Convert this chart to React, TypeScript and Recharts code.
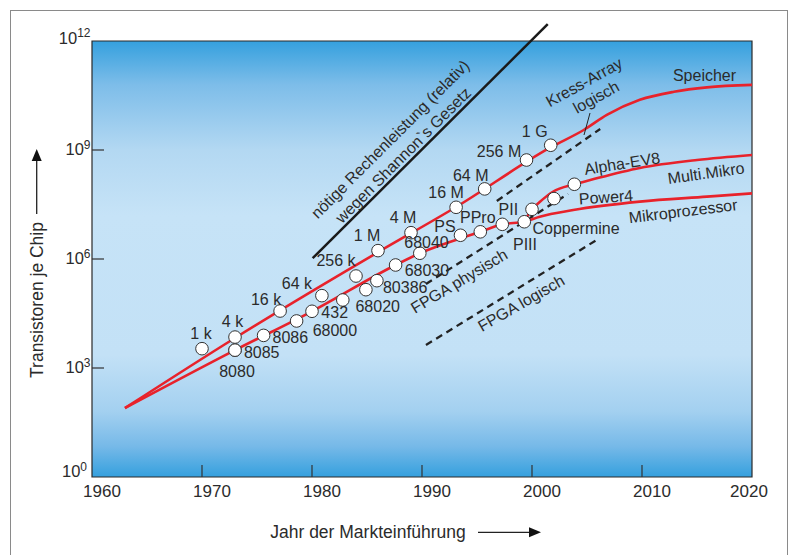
import React from "react";
import {
  ComposedChart,
  Line,
  XAxis,
  YAxis,
  CartesianGrid,
  ReferenceArea,
  ReferenceLine,
  LabelList,
} from "recharts";

// Speicherbausteine (DRAM)
const memoryYears = [1970.0, 1973.0, 1977.1, 1980.9, 1984.0, 1986.0, 1989.0, 1993.1, 1995.7, 1999.5, 2001.7];
const memoryCounts = [3400, 7100, 37000, 98000, 340000, 1.7e6, 5.3e6, 2.65e7, 8.5e7, 5.3e8, 1.35e9];
const memoryLabels = ["1 k", "4 k", "16 k", "64 k", "256 k", "1 M", "4 M", "16 M", "64 M", "256 M", "1 G"];

// Mikroprozessoren
const cpuYears = [1973.0, 1973.0, 1975.6, 1978.6, 1980.0, 1982.8, 1984.9, 1985.9, 1987.6, 1989.8, 1993.5, 1995.3, 1997.3, 1999.3, 2000.0, 2002.0, 2003.85];
const cpuCounts = [3100, 3100, 7900, 19700, 36400, 74500, 143000, 253000, 684000, 1.44e6, 4.5e6, 5.6e6, 9.0e6, 1.06e7, 2.33e7, 4.6e7, 1.14e8];
const cpuLabels = ["8080", "8085", "8086", "68000", "432", "", "68020", "80386", "68030", "68040", "PS", "PPro", "PII", "PIII", "Coppermine", "Power4", "Alpha-EV8"];

// Trendkurven
const speicherYears = [1963.0, 1973.0, 1986.1, 1993.1, 2001.8, 2004.7, 2006.8, 2009.8, 2012.9, 2015.9, 2020];
const speicherCounts = [79, 6700, 1.6e6, 2.7e7, 1.23e9, 3.55e9, 9.2e9, 2.4e10, 4.0e10, 5.3e10, 6.2e10];

const mikroYears = [1963.0, 1973.0, 1980.0, 1987.6, 1989.8, 1995.3, 1997.3, 1999.3, 2000.7, 2003.75, 2009.8, 2015.9, 2020];
const mikroCounts = [79, 3100, 36400, 684000, 1.44e6, 5.6e6, 9.0e6, 1.06e7, 1.46e7, 2.23e7, 3.8e7, 5.2e7, 6.4e7];

const multiYears = [1999.3, 2000.0, 2000.7, 2001.9, 2003.85, 2005.3, 2009.8, 2015.0, 2020];
const multiCounts = [1.06e7, 2.33e7, 3.7e7, 7.1e7, 1.14e8, 1.49e8, 3.2e8, 5.3e8, 7.3e8];

// Geraden: Rechenleistung, Kress-Array, FPGA
const rechenYears = [1980.06, 2001.43];
const rechenCounts = [1.05e6, 2.9e12];
const kressYears = [1996.8, 2006.2];
const kressCounts = [3.95e7, 3.8e9];
const fpgaPhysYears = [1990.36, 2003.27];
const fpgaPhysCounts = [2.05e5, 6.2e7];
const fpgaLogYears = [1990.36, 2006.1];
const fpgaLogCounts = [4300, 3.68e6];

const xTicks = [1960, 1970, 1980, 1990, 2000, 2010, 2020];
const yTicks = [1, 1e3, 1e6, 1e9, 1e12];

const toPoints = (years: number[], counts: number[], labels?: string[]) =>
  years.map((year, i) => ({ year, value: counts[i], label: labels ? labels[i] : "" }));

const memoryData = toPoints(memoryYears, memoryCounts, memoryLabels);
const cpuData = toPoints(cpuYears, cpuCounts, cpuLabels);
const speicherData = toPoints(speicherYears, speicherCounts);
const mikroData = toPoints(mikroYears, mikroCounts);
const multiData = toPoints(multiYears, multiCounts);

const segment = (years: number[], counts: number[]) =>
  years.map((x, i) => ({ x, y: counts[i] }));

const FONT = "'Liberation Sans', Arial, Helvetica, sans-serif";
const TEXT = "#2b2b2b";
const RED = "#e8222b";
const PLOT_LEFT = 92;
const PLOT_BOTTOM = 477;

// text centre relative to the circle: [dx, dy, rotation]
const labelPlacement: Record<string, number[]> = {
  "1 k": [-1, -15], "4 k": [-2.5, -15.5], "16 k": [-14, -12], "64 k": [-25, -12], "256 k": [-20, -16],
  "1 M": [-11, -15], "4 M": [-8, -15], "16 M": [-10, -15], "64 M": [-14, -14], "256 M": [-27.5, -9], "1 G": [-16, -14],
  "8080": [2, 21], "8085": [26.7, 2.5], "8086": [26.7, 2], "68000": [38.3, 9], "432": [22.7, 1.2],
  "68020": [11.8, 16.3], "80386": [28.3, 6.8], "68030": [31.3, 5], "68040": [6.7, -11],
  "PS": [-15.5, -9.5], "PPro": [-2.5, -14.7], "PII": [6, -15.6], "PIII": [0.7, 22.5],
  "Coppermine": [44, 19], "Power4": [52, -1.7, -4], "Alpha-EV8": [47.7, -21, -9],
};

const PointLabel = (props: any) => {
  const { x, y, value } = props;
  if (!value) return null;
  const [dx, dy, rot = 0] = labelPlacement[value] || [0, -14];
  const cx = x + dx;
  const cy = y + dy;
  return (
    <text
      x={cx}
      y={cy + 5.8}
      textAnchor="middle"
      fontSize={16}
      fontFamily={FONT}
      fill={TEXT}
      transform={rot ? `rotate(${rot} ${cx} ${cy})` : undefined}
    >
      {value}
    </text>
  );
};

const XTick = (props: any) => {
  const { x, payload } = props;
  const v = payload.value;
  const last = v === xTicks[xTicks.length - 1];
  const inner = v !== xTicks[0] && !last;
  return (
    <g>
      {inner && <line x1={x} x2={x} y1={PLOT_BOTTOM} y2={PLOT_BOTTOM - 12} stroke="#333" strokeWidth={1.2} />}
      <text x={x + (last ? -3 : 10)} y={497} textAnchor="middle" fontSize={17} fontFamily={FONT} fill={TEXT}>
        {v}
      </text>
    </g>
  );
};

const YTick = (props: any) => {
  const { y, payload } = props;
  const v = payload.value;
  const exp = Math.round(Math.log10(v));
  const inner = v !== yTicks[0] && v !== yTicks[yTicks.length - 1];
  const shift = exp === 0 ? 0 : exp === 12 ? 2.5 : 5;
  return (
    <g>
      {inner && <line x1={PLOT_LEFT} x2={PLOT_LEFT + 12} y1={y} y2={y} stroke="#333" strokeWidth={1.2} />}
      <text x={exp === 0 ? 87 : 90.5} y={y + shift} textAnchor="end" fontSize={16.5} fontFamily={FONT} fill={TEXT}>
        10
        <tspan dy={-6.5} fontSize={12}>
          {exp}
        </tspan>
      </text>
    </g>
  );
};

const Note = ({ x, y, rot = 0, size = 16, children }: any) => (
  <text
    x={x}
    y={y + size * 0.36}
    textAnchor="middle"
    fontSize={size}
    fontFamily={FONT}
    fill={TEXT}
    transform={rot ? `rotate(${rot} ${x} ${y})` : undefined}
  >
    {children}
  </text>
);

export default function App() {
  return (
    <div style={{ position: "absolute", left: 0, top: 0, width: 793, height: 555, overflow: "hidden", background: "#fff" }}>
      <div
        style={{
          position: "absolute",
          left: 10,
          top: 10,
          width: 778,
          height: 600,
          border: "1.5px solid #8a8a8a",
          boxSizing: "border-box",
        }}
      />
      <div style={{ position: "absolute", left: 0, top: 0 }}>
        <ComposedChart width={793} height={555} margin={{ top: 41, right: 41, bottom: 48, left: 32 }}>
          <defs>
            <linearGradient id="plotBg" x1="0" y1="0" x2="0" y2="1">
              <stop offset="0" stopColor="#35a0de" />
              <stop offset="0.1" stopColor="#7dbde9" />
              <stop offset="0.25" stopColor="#b3d8f2" />
              <stop offset="0.4" stopColor="#c6e3f7" />
              <stop offset="0.72" stopColor="#c3e1f6" />
              <stop offset="0.85" stopColor="#a3d0f0" />
              <stop offset="0.93" stopColor="#76b9e8" />
              <stop offset="1" stopColor="#35a0de" />
            </linearGradient>
          </defs>
          <CartesianGrid horizontal={false} vertical={false} fill="url(#plotBg)" fillOpacity={1} />
          <XAxis
            type="number"
            dataKey="year"
            domain={[1960, 2020]}
            ticks={xTicks}
            interval={0}
            allowDataOverflow
            height={30}
            axisLine={false}
            tickLine={false}
            tick={<XTick />}
          />
          <YAxis
            type="number"
            scale="log"
            domain={[1, 1e12]}
            ticks={yTicks}
            interval={0}
            allowDataOverflow
            width={60}
            axisLine={false}
            tickLine={false}
            tick={<YTick />}
          />
          <ReferenceArea x1={1960} x2={2020} y1={1} y2={1e12} fill="none" fillOpacity={0} stroke="#2a2a2a" strokeWidth={1.2} />

          <ReferenceLine segment={segment(rechenYears, rechenCounts)} stroke="#1a1a1a" strokeWidth={2.5} ifOverflow="visible" />
          <ReferenceLine segment={segment(kressYears, kressCounts)} stroke="#222" strokeWidth={2.3} strokeDasharray="7 5" ifOverflow="visible" />
          <ReferenceLine segment={segment(fpgaPhysYears, fpgaPhysCounts)} stroke="#222" strokeWidth={2.3} strokeDasharray="7 5" ifOverflow="visible" />
          <ReferenceLine segment={segment(fpgaLogYears, fpgaLogCounts)} stroke="#222" strokeWidth={2.3} strokeDasharray="7 5" ifOverflow="visible" />

          <Line data={speicherData} dataKey="value" type="monotone" stroke={RED} strokeWidth={2.6} dot={false} activeDot={false} isAnimationActive={false} />
          <Line data={mikroData} dataKey="value" type="monotone" stroke={RED} strokeWidth={2.6} dot={false} activeDot={false} isAnimationActive={false} />
          <Line data={multiData} dataKey="value" type="monotone" stroke={RED} strokeWidth={2.6} dot={false} activeDot={false} isAnimationActive={false} />

          <Line
            data={memoryData}
            dataKey="value"
            stroke="none"
            dot={{ r: 6.3, fill: "#fff", stroke: "#333", strokeWidth: 1 }}
            activeDot={false}
            isAnimationActive={false}
          >
            <LabelList dataKey="label" content={<PointLabel />} />
          </Line>
          <Line
            data={cpuData}
            dataKey="value"
            stroke="none"
            dot={{ r: 6.3, fill: "#fff", stroke: "#333", strokeWidth: 1 }}
            activeDot={false}
            isAnimationActive={false}
          >
            <LabelList dataKey="label" content={<PointLabel />} />
          </Line>
        </ComposedChart>
      </div>

      <svg width={793} height={555} style={{ position: "absolute", left: 0, top: 0, pointerEvents: "none" }}>
        <Note x={390} y={139} rot={-45}>nötige Rechenleistung (relativ)</Note>
        <Note x={403} y={155} rot={-45}>wegen Shannon`s Gesetz</Note>
        <Note x={584} y={82} rot={-29}>Kress-Array</Note>
        <Note x={596} y={97} rot={-29}>logisch</Note>
        <line x1={590} y1={113} x2={584} y2={135} stroke="#222" strokeWidth={1} />
        <Note x={704.5} y={75}>Speicher</Note>
        <Note x={706} y={173} rot={-8}>Multi.Mikro</Note>
        <Note x={683} y={211} rot={-7}>Mikroprozessor</Note>
        <Note x={459} y={281} rot={-31}>FPGA physisch</Note>
        <Note x={521} y={303} rot={-30}>FPGA logisch</Note>

        <text transform="translate(43 300) rotate(-90)" textAnchor="middle" fontSize={17.5} fontFamily={FONT} fill={TEXT}>
          Transistoren je Chip
        </text>
        <line x1={36.7} y1={214} x2={36.7} y2={158} stroke="#222" strokeWidth={1.3} />
        <polygon points="36.7,149 31.7,161 41.7,161" fill="#111" />

        <text x={368} y={537.5} textAnchor="middle" fontSize={17.5} fontFamily={FONT} fill={TEXT}>
          Jahr der Markteinführung
        </text>
        <line x1={478} y1={532.3} x2={533} y2={532.3} stroke="#222" strokeWidth={1.3} />
        <polygon points="541,532.3 529,527.3 529,537.3" fill="#111" />
      </svg>
    </div>
  );
}
